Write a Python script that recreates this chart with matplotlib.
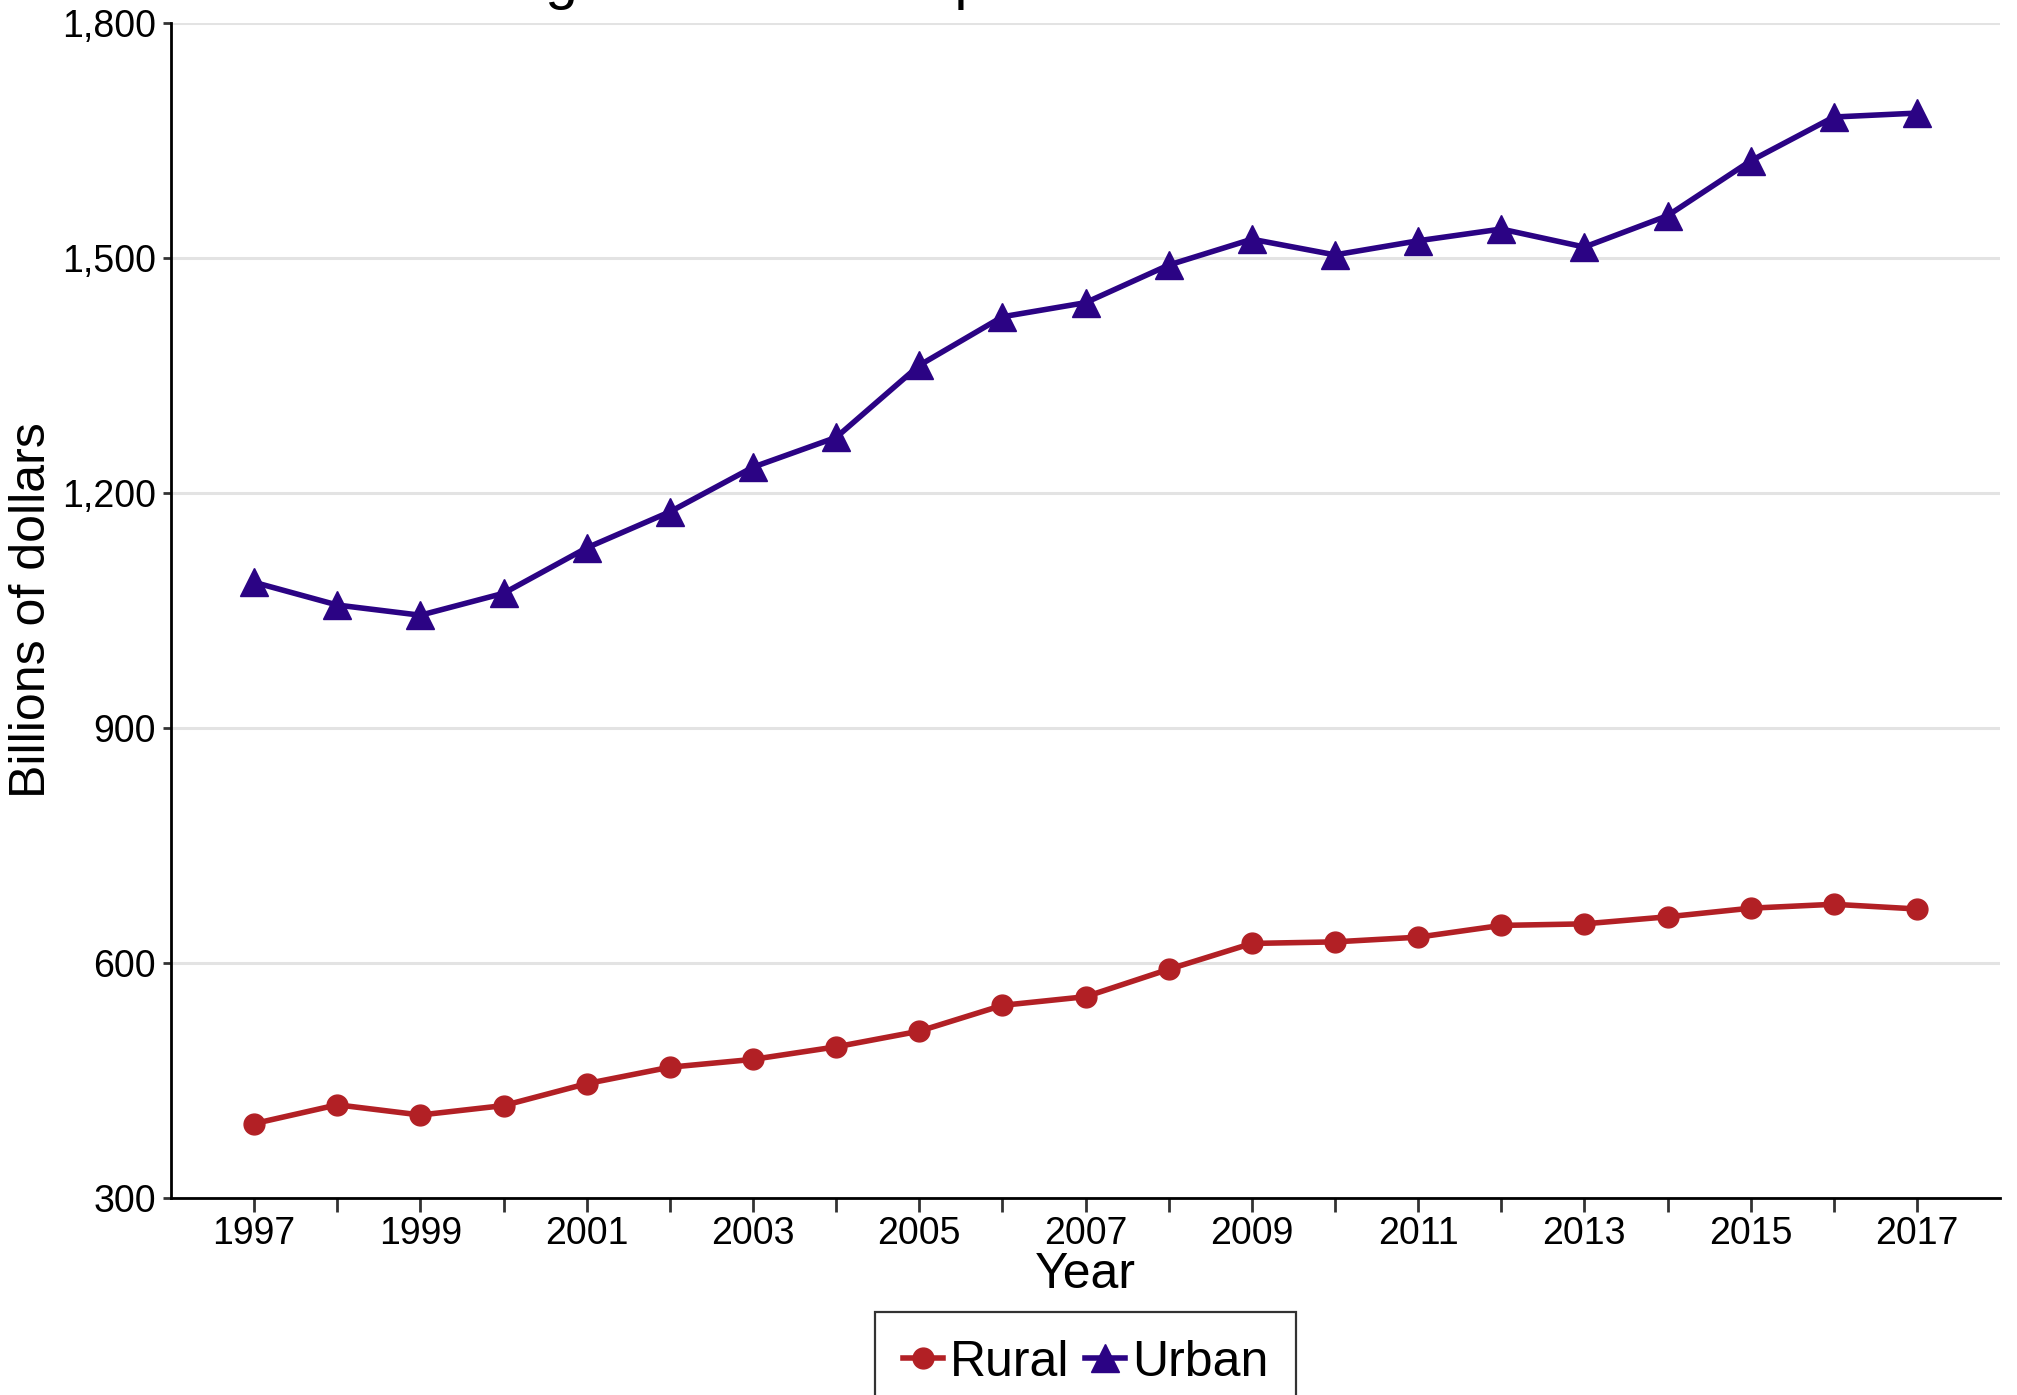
import matplotlib
matplotlib.use("Agg")
from matplotlib import pyplot as plt
from matplotlib.ticker import FuncFormatter

plt.rcParams['font.family'] = ['Liberation Sans', 'DejaVu Sans']

years = list(range(1997, 2018))
rural = [395, 419, 406, 418, 446, 467, 477, 493, 513, 546, 557, 592,
         625, 627, 633, 648, 650, 659, 670, 675, 669]
urban = [1086, 1057, 1044, 1072, 1130, 1176, 1233, 1271, 1363, 1425, 1443,
         1491, 1524, 1504, 1522, 1537, 1514, 1554, 1624, 1680, 1685]
y_ticks = [300, 600, 900, 1200, 1500, 1800]
x_labels = list(range(1997, 2018, 2))

rural_color = '#b22025'
urban_color = '#2b0384'

fig = plt.figure(figsize=(20.17, 13.95), dpi=100)
ax = fig.add_axes([0.0848, 0.1412, 0.9068, 0.8423])

ax.plot(years, rural, color=rural_color, lw=4, marker='o', markersize=15,
        label='Rural', zorder=3)
ax.plot(years, urban, color=urban_color, lw=4, marker='^', markersize=20,
        label='Urban', zorder=3)

ax.set_xlim(1996, 2018)
ax.set_ylim(300, 1800)
ax.set_yticks(y_ticks)
ax.yaxis.set_major_formatter(FuncFormatter(lambda v, p: f'{int(v):,}'))
ax.set_xticks(years)
ax.set_xticklabels([str(y) if y in x_labels else '' for y in years])

ax.grid(axis='y', color='#e3e3e3', lw=2.2, zorder=0)
ax.set_axisbelow(True)
for s in ['top', 'right']:
    ax.spines[s].set_visible(False)
for s in ['left', 'bottom']:
    ax.spines[s].set_linewidth(2.0)
    ax.spines[s].set_color('black')

ax.tick_params(axis='x', length=10, width=2, color='#333333', pad=3,
               labelsize=27)
ax.tick_params(axis='y', length=6, width=2, color='#333333', pad=5,
               labelsize=27)

ax.set_xlabel('Year', fontsize=36)
ax.xaxis.set_label_coords(0.5, -0.046)
ax.set_ylabel('Billions of dollars', fontsize=36)
ax.yaxis.set_label_coords(-0.0634, 0.5)

# title sits mostly above the canvas, only the descenders show
fig.text(0.2028, 1.0012, 'Real gross domestic product in rural and urban counties',
         fontsize=42, ha='left', va='baseline')

leg = ax.legend(loc='upper center', bbox_to_anchor=(0.5, -0.076), ncol=2,
                fontsize=36, frameon=True, fancybox=False, handlelength=0.8,
                handletextpad=0.15, columnspacing=0.3, borderpad=0.55)
leg.get_frame().set_edgecolor('black')
leg.get_frame().set_linewidth(1.6)

fig.savefig('out.png', dpi=100)
